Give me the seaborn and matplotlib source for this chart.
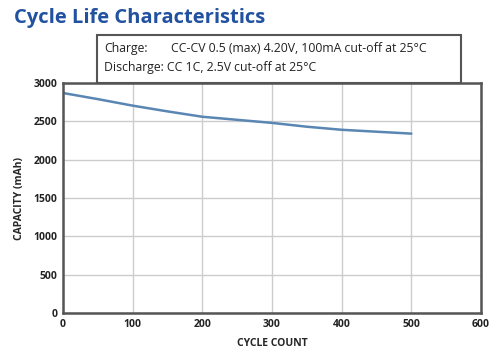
import matplotlib
matplotlib.use("Agg")
import matplotlib.pyplot as plt
import seaborn as sns
import pandas as pd
from matplotlib.patches import Rectangle

cycles = [0, 50, 100, 150, 200, 250, 300, 350, 400, 450, 500]
capacity = [2870, 2790, 2705, 2630, 2560, 2520, 2480, 2430, 2390, 2365, 2340]
x_ticks = [0, 100, 200, 300, 400, 500, 600]
y_ticks = [0, 500, 1000, 1500, 2000, 2500, 3000]

df = pd.DataFrame({"cycle": cycles, "capacity": capacity})

sns.set_style("white")
plt.rcParams['font.family'] = ['Open Sans', 'DejaVu Sans']

fig = plt.figure(figsize=(5, 3.61), dpi=100)
ax = fig.add_axes([0.126, 0.133, 0.836, 0.637])
sns.lineplot(data=df, x="cycle", y="capacity", ax=ax, color="#5a86b3", linewidth=1.8)

ax.set_xlim(0, 600)
ax.set_ylim(0, 3000)
ax.set_xticks(x_ticks)
ax.set_yticks(y_ticks)
ax.grid(True, color="#cccccc", linewidth=1)
for s in ax.spines.values():
    s.set_color("#555555")
    s.set_linewidth(1.8)
ax.tick_params(labelsize=7.5, colors="#222222", length=0, pad=4)
for lab in ax.get_xticklabels() + ax.get_yticklabels():
    lab.set_fontweight("bold")
ax.set_xlabel("CYCLE COUNT", fontsize=7.5, fontweight="bold", labelpad=6)
ax.set_ylabel("CAPACITY (mAh)", fontsize=7.5, fontweight="bold", labelpad=6)

fig.text(0.028, 0.95, "Cycle Life Characteristics", fontsize=14.5, fontweight="bold",
         color="#2251a0", va="center")

fig.patches.append(Rectangle((0.194, 0.770), 0.728, 0.133, transform=fig.transFigure,
                             facecolor="white", edgecolor="#555555", linewidth=1.5, zorder=5))
fig.text(0.208, 0.866, "Charge:", fontsize=8.8, va="center", color="#222222", zorder=6)
fig.text(0.342, 0.866, "CC-CV 0.5 (max) 4.20V, 100mA cut-off at 25°C", fontsize=8.8,
         va="center", color="#222222", zorder=6)
fig.text(0.208, 0.814, "Discharge: CC 1C, 2.5V cut-off at 25°C", fontsize=8.8,
         va="center", color="#222222", zorder=6)

fig.savefig("out.png", dpi=100)
